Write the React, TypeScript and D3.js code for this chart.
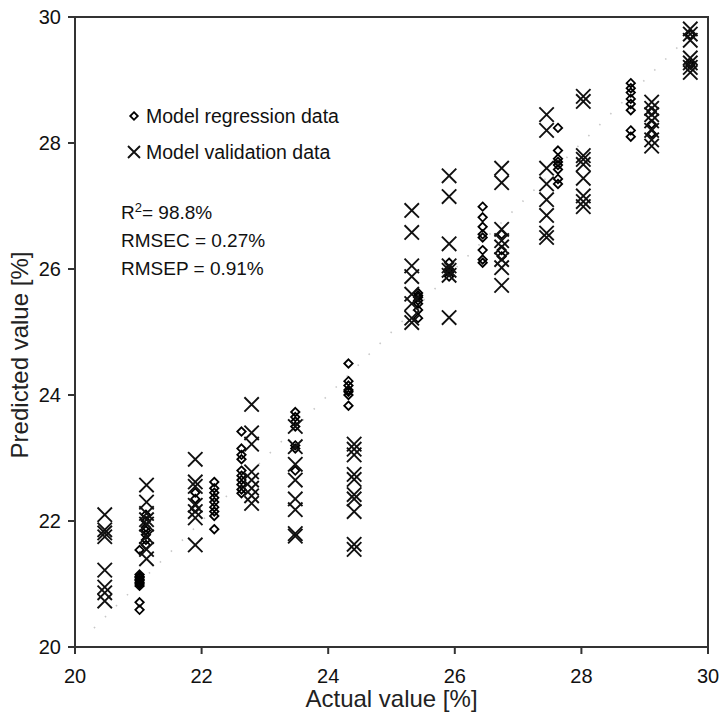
import React from "react";
import * as d3 from "d3";

const xTicks = [20, 22, 24, 26, 28, 30];
const yTicks = [20, 22, 24, 26, 28, 30];

const regressionActual = [21.02, 21.12, 21.9, 22.2, 22.63, 23.48, 24.32, 25.42, 25.91, 26.44, 26.74, 27.63, 28.78, 29.11, 29.72];
const regressionPredicted = [
  [21.54, 21.15, 21.12, 21.1, 21.07, 21.05, 21.02, 21.0, 20.97, 20.71, 20.59],
  [22.1, 22.0, 21.9, 21.85, 21.78, 21.7, 21.62],
  [22.45, 22.35, 22.2],
  [22.62, 22.52, 22.45, 22.37, 22.3, 22.22, 22.15, 22.08, 21.87],
  [23.42, 23.15, 23.05, 22.98, 22.8, 22.72, 22.65, 22.58, 22.5, 22.44],
  [23.73, 23.65, 23.58, 23.5, 23.2, 23.15, 22.8],
  [24.5, 24.22, 24.15, 24.08, 24.05, 24.0, 23.83],
  [25.62, 25.58, 25.55, 25.5, 25.45, 25.35, 25.22],
  [26.1, 26.0, 25.95, 25.88],
  [26.99, 26.82, 26.67, 26.55, 26.5, 26.3, 26.15, 26.1],
  [26.55, 26.3, 26.2],
  [28.24, 27.88, 27.75, 27.7, 27.65, 27.58, 27.43, 27.35],
  [28.95, 28.87, 28.8, 28.7, 28.62, 28.52, 28.2, 28.1],
  [28.5, 28.3, 28.15],
  [29.72, 29.28, 29.24],
];

const validationActual = [20.47, 21.13, 21.9, 22.79, 23.48, 24.41, 25.32, 25.91, 26.74, 27.45, 28.03, 29.11, 29.72];
const validationPredicted = [
  [22.1, 21.86, 21.81, 21.75, 21.22, 20.95, 20.86, 20.73],
  [22.57, 22.3, 22.12, 22.02, 21.95, 21.75, 21.55, 21.4],
  [22.98, 22.62, 22.55, 22.25, 22.15, 22.05, 21.62],
  [23.85, 23.4, 23.22, 22.78, 22.65, 22.52, 22.4, 22.28],
  [23.5, 23.18, 22.9, 22.65, 22.35, 22.18, 21.8, 21.76],
  [23.22, 23.14, 23.05, 22.74, 22.66, 22.42, 22.35, 22.15, 21.63, 21.55],
  [26.93, 26.58, 26.05, 25.88, 25.6, 25.45, 25.22, 25.15],
  [27.48, 27.15, 26.4, 26.05, 25.98, 25.9, 25.23],
  [27.6, 27.37, 26.63, 26.45, 26.35, 26.15, 26.02, 25.74],
  [28.45, 28.2, 27.6, 27.35, 27.1, 26.85, 26.57, 26.5],
  [28.74, 28.66, 27.8, 27.74, 27.66, 27.44, 27.16, 27.07, 26.99],
  [28.65, 28.55, 28.45, 28.35, 28.2, 28.05, 27.95],
  [29.81, 29.73, 29.63, 29.35, 29.27, 29.2, 29.12],
];

const legendLabels = ["Model regression data", "Model validation data"];
const statLines = ["RMSEC = 0.27%", "RMSEP = 0.91%"];
const r2Value = "= 98.8%";
const diagonal = [20.3, 29.75];

const W = 721;
const H = 714;
const L = 75, R = 708, T = 17, B = 647;

const FONT = "Arial, 'Liberation Sans', Helvetica, sans-serif";

function Diamond({ cx, cy, r = 4.2 }: { cx: number; cy: number; r?: number }) {
  return (
    <path
      d={`M${cx},${cy - r}L${cx + r},${cy}L${cx},${cy + r}L${cx - r},${cy}Z`}
      fill="none"
      stroke="#000"
      strokeWidth={1.8}
    />
  );
}

function Cross({ cx, cy, r = 7.2 }: { cx: number; cy: number; r?: number }) {
  return (
    <path
      d={`M${cx - r},${cy - r}L${cx + r},${cy + r}M${cx - r},${cy + r}L${cx + r},${cy - r}`}
      stroke="#111"
      strokeWidth={1.9}
      fill="none"
    />
  );
}

export default function App() {
  const x = d3.scaleLinear().domain([20, 30]).range([L, R]);
  const y = d3.scaleLinear().domain([20, 30]).range([B, T]);
  const line = d3.line<number>().x((d) => x(d)).y((d) => y(d));

  return (
    <svg
      width={W}
      height={H}
      style={{ position: "absolute", left: 0, top: 0, background: "#fff" }}
      fontFamily={FONT}
    >
      <rect x={0} y={0} width={W} height={H} fill="#fff" />
      <path d={line(diagonal) || ""} stroke="#c8c8c8" strokeWidth={1.6} strokeDasharray="1.5,14" fill="none" />

      <rect x={L} y={T} width={R - L} height={B - T} fill="none" stroke="#333" strokeWidth={2} />

      {xTicks.map((t) => (
        <g key={"xt" + t}>
          <line x1={x(t)} x2={x(t)} y1={B} y2={B + 7} stroke="#333" strokeWidth={2} />
          <text x={x(t)} y={B + 36} textAnchor="middle" fontSize={20} fill="#111">
            {t}
          </text>
        </g>
      ))}
      {yTicks.map((t) => (
        <g key={"yt" + t}>
          <line x1={L - 7} x2={L} y1={y(t)} y2={y(t)} stroke="#333" strokeWidth={2} />
          <text x={L - 14} y={y(t) + 7} textAnchor="end" fontSize={20} fill="#111">
            {t}
          </text>
        </g>
      ))}

      <text x={(L + R) / 2} y={707} textAnchor="middle" fontSize={24} fill="#222">
        Actual value [%]
      </text>
      <text
        transform={`translate(28, ${(T + B) / 2 + 23}) rotate(-90)`}
        textAnchor="middle"
        fontSize={24}
        fill="#222"
      >
        Predicted value [%]
      </text>

      {regressionActual.map((a, i) =>
        regressionPredicted[i].map((p, j) => <Diamond key={`r${i}-${j}`} cx={x(a)} cy={y(p)} />)
      )}
      {validationActual.map((a, i) =>
        validationPredicted[i].map((p, j) => <Cross key={`v${i}-${j}`} cx={x(a)} cy={y(p)} />)
      )}

      <Diamond cx={134} cy={116} r={3.8} />
      <text x={146} y={123} fontSize={19.5} fill="#111">
        {legendLabels[0]}
      </text>
      <Cross cx={134} cy={152} r={6} />
      <text x={146} y={159} fontSize={19.5} fill="#111">
        {legendLabels[1]}
      </text>

      <text x={121} y={219} fontSize={19} fill="#111">
        R<tspan dy={-7} fontSize={13}>2</tspan>
        <tspan dy={7}>{r2Value}</tspan>
      </text>
      <text x={121} y={247} fontSize={19} fill="#111">
        {statLines[0]}
      </text>
      <text x={121} y={275} fontSize={19} fill="#111">
        {statLines[1]}
      </text>
    </svg>
  );
}
